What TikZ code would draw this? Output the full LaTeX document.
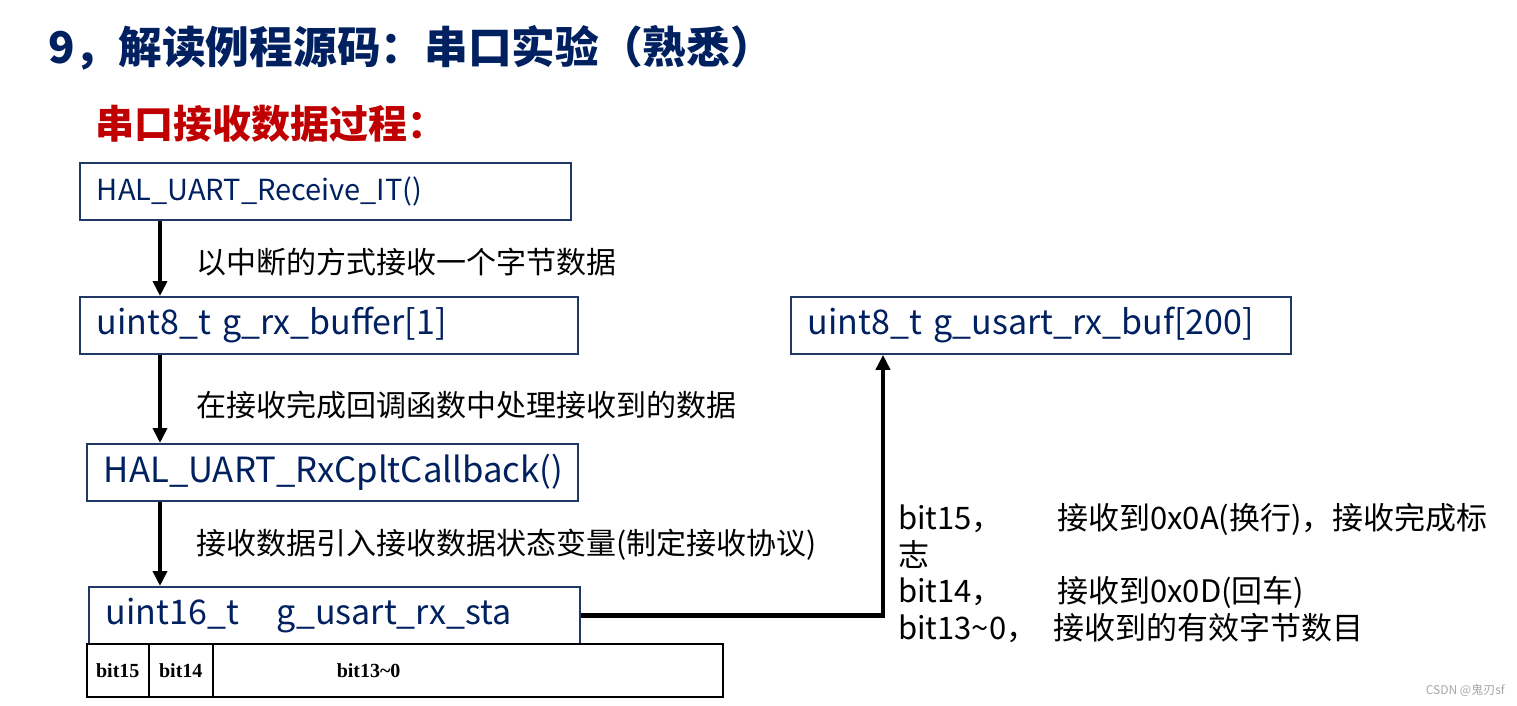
\documentclass[tikz,border=0pt]{standalone}
\usepackage{fontspec}
\setmainfont{Noto Sans CJK SC}
\newfontfamily\bitfont{Liberation Serif}
\usetikzlibrary{arrows.meta,positioning}
\definecolor{navy}{HTML}{002060}
\definecolor{boxblue}{HTML}{1F3864}
\definecolor{darkred}{HTML}{C00000}

\begin{document}
\begin{tikzpicture}[x=1pt,y=-1pt,>={Triangle[length=15pt,width=14pt]}]
\tikzset{box/.style={draw=boxblue,line width=1.8pt,anchor=north west,minimum height=57pt,inner xsep=17pt,inner ysep=0pt,align=left,text=navy,font=\fontsize{34}{40}\selectfont},
  flow/.style={->,line width=4.2pt},
  note/.style={anchor=west,inner sep=0pt,font=\fontsize{30}{36}\selectfont},
  cell/.style={draw,line width=1.5pt,anchor=north west,minimum height=53pt,inner sep=0pt,font=\bitfont\bfseries\fontsize{20}{24}\selectfont}}
\useasboundingbox (0,0) rectangle (1517,705);
% headings
\node[anchor=west,inner sep=0pt,text=navy,font=\bfseries\fontsize{43.7}{50}\selectfont] (title) at (48,48) {9，解读例程源码：串口实验（熟悉）};
\node[anchor=west,inner sep=0pt,text=darkred,font=\bfseries\fontsize{39}{44}\selectfont] (sub) at (95,124) {串口接收数据过程：};
% left chain
\node[box,text width=457pt,font=\fontsize{29}{34}\selectfont] (recv) at (79,162) {HAL\_UART\_Receive\_IT()};
\node[box,text width=464pt] (rxbuf) at (79,296) {uint8\_t g\_rx\_buffer[1]};
\node[box,text width=457pt,font=\fontsize{34.7}{40}\selectfont] (cplt) at (86,443) {HAL\_UART\_RxCpltCallback()};
\node[box,text width=457pt] (rxsta) at (88,586) {uint16\_t\hspace{38pt}g\_usart\_rx\_sta};
\node[box,text width=466pt] (usartbuf) at (790,296) {uint8\_t g\_usart\_rx\_buf[200]};
% bit table
\node[cell,minimum width=62pt] (b15) at (86,643) {bit15};
\node[cell,minimum width=64pt] (b14) at (148,643) {bit14};
\node[cell,minimum width=510pt,inner xsep=124pt,text width=262pt,align=left] (b13) at (212,643) {bit13\textasciitilde0};
% arrows
\coordinate (spine) at (160,0);
\coordinate (bend) at (883,0);
\draw[flow] (spine |- recv.south) -- (spine |- rxbuf.north);
\draw[flow] (spine |- rxbuf.south) -- (spine |- cplt.north);
\draw[flow] (spine |- cplt.south) -- (spine |- rxsta.north);
\draw[flow] (rxsta.east) -| (bend |- usartbuf.south);
% notes
\node[note] (n1) at (196,262) {以中断的方式接收一个字节数据};
\node[note] (n2) at (196,405) {在接收完成回调函数中处理接收到的数据};
\node[note] (n3) at (196,545) {接收数据引入接收数据状态变量(制定接收协议)};
\node[anchor=north west,inner sep=0pt,align=left,font=\fontsize{31}{36.5}\selectfont] (bits) at (898,503)
  {\makebox[159pt][l]{bit15，}接收到0x0A(换行)，接收完成标\\志\\\makebox[159pt][l]{bit14，}接收到0x0D(回车)\\\makebox[155pt][l]{bit13\textasciitilde0，}接收到的有效字节数目};
\node[anchor=east,inner sep=0pt,text=gray!70,font=\fontsize{12}{14}\selectfont] (mark) at (1505,690) {CSDN @鬼刃sf};
\end{tikzpicture}
\end{document}
